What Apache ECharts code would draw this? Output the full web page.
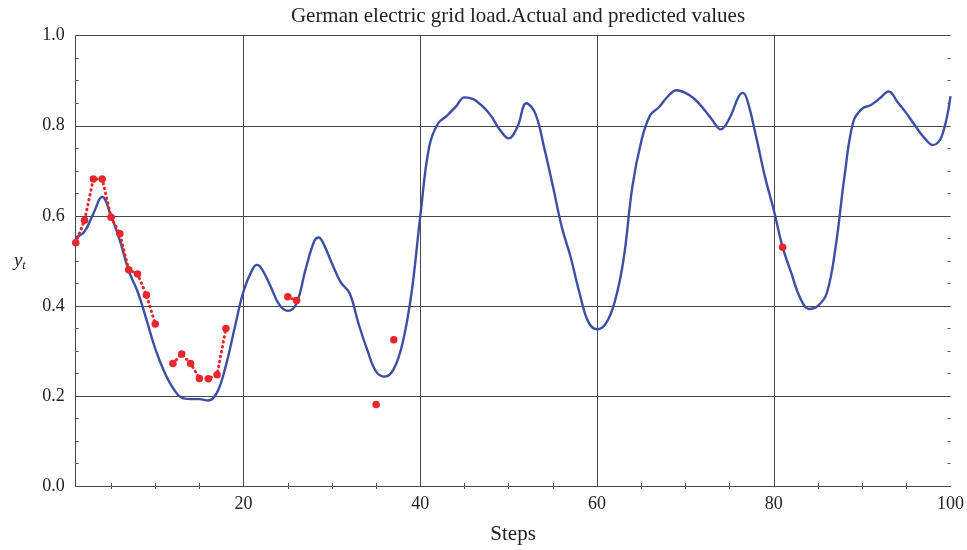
<!DOCTYPE html>
<html>
<head>
<meta charset="utf-8">
<script src="https://cdn.jsdelivr.net/npm/echarts@6/dist/echarts.min.js"></script>
<style>
  html, body { margin: 0; padding: 0; background: #fff; }
  #chart { width: 967px; height: 550px; }
</style>
</head>
<body>
<div id="chart"></div>
<script>
// Actual load (normalised): steps and values, with extra points at peaks between steps
const actualSteps = [
  1, 2, 3, 4, 5, 6, 7, 8, 9, 10,
  11, 12, 13, 14, 15, 16, 17, 18, 19, 20,
  21, 21.5, 22, 23, 24, 25, 26, 27, 28, 28.5, 29, 30,
  31, 32, 33, 34, 35, 36, 37, 38, 39, 40,
  41, 42, 43, 44, 45, 46, 47, 48, 49, 50,
  51, 52, 53, 54, 55, 56, 57, 58, 59, 60,
  61, 62, 63, 64, 65, 66, 67, 68, 69, 70,
  71, 72, 73, 74, 75, 76, 76.5, 77, 78, 79, 80,
  81, 82, 83, 84, 85, 86, 87, 88, 89, 90,
  91, 92, 93, 94, 95, 96, 97, 98, 99, 100
];
const actualValues = [
  0.552, 0.565, 0.605, 0.642, 0.600, 0.545, 0.478, 0.432, 0.370, 0.305,
  0.255, 0.218, 0.196, 0.193, 0.193, 0.190, 0.208, 0.268, 0.352, 0.433,
  0.481, 0.491, 0.484, 0.446, 0.404, 0.389, 0.406, 0.480, 0.544, 0.552, 0.540, 0.494,
  0.452, 0.428, 0.361, 0.302, 0.254, 0.243, 0.260, 0.318, 0.428, 0.600,
  0.753, 0.805, 0.822, 0.842, 0.863, 0.859, 0.844, 0.822, 0.791, 0.772,
  0.798, 0.850, 0.828, 0.753, 0.666, 0.576, 0.509, 0.430, 0.365, 0.348,
  0.361, 0.409, 0.503, 0.665, 0.765, 0.823, 0.841, 0.865, 0.879, 0.873,
  0.860, 0.839, 0.814, 0.792, 0.817, 0.864, 0.873, 0.857, 0.776, 0.687, 0.613,
  0.531, 0.472, 0.417, 0.393, 0.400, 0.428, 0.531, 0.687, 0.809, 0.838,
  0.846, 0.861, 0.876, 0.853, 0.828, 0.800, 0.774, 0.757, 0.776, 0.866
];

// Predicted values, only at the steps where a prediction exists
const predSteps = [1, 2, 3, 4, 5, 6, 7, 8, 9, 10,
                   12, 13, 14, 15, 16, 17, 18,
                   25, 26, 35, 37, 81];
const predValues = [0.540, 0.590, 0.682, 0.682, 0.597, 0.560, 0.480, 0.471, 0.424, 0.360,
                    0.272, 0.293, 0.272, 0.239, 0.238, 0.247, 0.350,
                    0.420, 0.412, 0.181, 0.325, 0.530];

const xTickLabels = ['20', '40', '60', '80', '100'];
const yTickLabels = ['0.0', '0.2', '0.4', '0.6', '0.8', '1.0'];

const actualData = actualSteps.map((s, i) => [s, actualValues[i]]);

// break the dotted line wherever consecutive steps are missing
const predData = [];
predSteps.forEach((s, i) => {
  if (i > 0 && s - predSteps[i - 1] > 1) predData.push([s - 1, '-']);
  predData.push([s, predValues[i]]);
});

const serif = '"Liberation Serif", "DejaVu Serif", serif';
const gridColor = '#474747';
const labelStyle = { fontFamily: serif, fontSize: 18, color: '#222' };
const minorTick = { show: true, splitNumber: 4, length: 3, lineStyle: { color: '#555', width: 1 } };

const chart = echarts.init(document.getElementById('chart'), null, { renderer: 'canvas' });

chart.setOption({
  animation: false,
  backgroundColor: '#fff',
  title: {
    text: 'German electric grid load.Actual and predicted values',
    left: 513,
    textAlign: 'center',
    top: 1,
    textStyle: { fontFamily: serif, fontSize: 21, fontWeight: 'normal', color: '#222' }
  },
  grid: { left: 75.7, right: 16.3, top: 35.7, bottom: 64 },
  xAxis: [
    {
      type: 'value', min: 1, max: 100, splitNumber: 5,
      name: 'Steps', nameLocation: 'middle', nameGap: 38,
      nameTextStyle: { fontFamily: serif, fontSize: 21, color: '#222' },
      axisLine: { show: true, lineStyle: { color: gridColor, width: 1 } },
      axisTick: { show: false, inside: true },
      minorTick: minorTick,
      axisLabel: Object.assign({
        margin: 9, showMinLabel: false,
        formatter: v => (xTickLabels.indexOf(String(v)) >= 0 ? String(v) : '')
      }, labelStyle),
      splitLine: { show: true, showMinLine: false, showMaxLine: false, lineStyle: { color: gridColor, width: 1 } }
    },
    {
      type: 'value', min: 1, max: 100, splitNumber: 5, position: 'top',
      axisLine: { show: false },
      axisTick: { show: false, inside: true },
      minorTick: minorTick,
      axisLabel: { show: false },
      splitLine: { show: false }
    }
  ],
  yAxis: [
    {
      type: 'value', min: 0, max: 1, interval: 0.2,
      name: '{y|y}{t|t}', nameLocation: 'middle', nameGap: 50, nameRotate: 0,
      nameTextStyle: {
        rich: {
          y: { fontFamily: serif, fontSize: 19, fontStyle: 'italic', color: '#222' },
          t: { fontFamily: serif, fontSize: 12, fontStyle: 'italic', color: '#222', verticalAlign: 'bottom', padding: [10, 0, 0, 0] }
        }
      },
      axisLine: { show: true, lineStyle: { color: gridColor, width: 1 } },
      axisTick: { show: false, inside: true },
      minorTick: minorTick,
      axisLabel: Object.assign({
        margin: 11,
        formatter: v => yTickLabels[Math.round(v / 0.2)]
      }, labelStyle),
      splitLine: { show: true, lineStyle: { color: gridColor, width: 1 } }
    },
    {
      type: 'value', min: 0, max: 1, interval: 0.2, position: 'right',
      axisLine: { show: false },
      axisTick: { show: false, inside: true },
      minorTick: minorTick,
      axisLabel: { show: false },
      splitLine: { show: false }
    }
  ],
  series: [
    {
      name: 'Actual',
      type: 'line',
      data: actualData,
      smooth: 0.4,
      showSymbol: false,
      lineStyle: { color: '#3c4fa3', width: 2.4 },
      z: 3
    },
    {
      name: 'Predicted',
      type: 'line',
      data: predData,
      connectNulls: false,
      symbol: 'circle',
      symbolSize: 7.5,
      itemStyle: { color: '#e8262b' },
      lineStyle: { color: '#e8262b', width: 3, type: [0.5, 4.5], cap: 'round' },
      z: 4
    }
  ]
});
</script>
</body>
</html>
